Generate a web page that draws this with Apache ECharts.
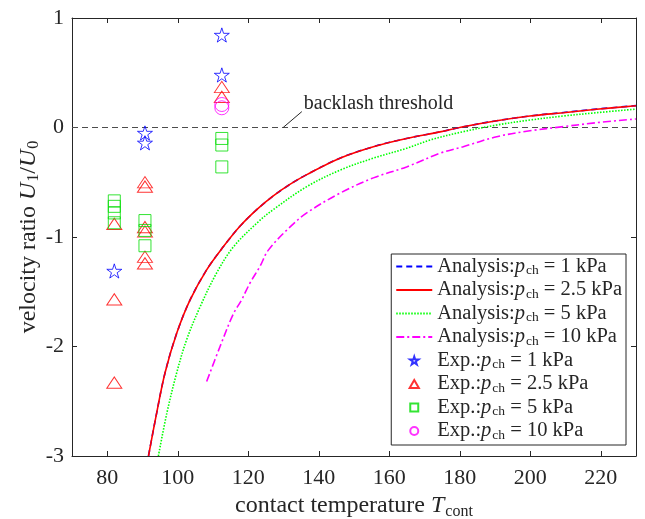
<!DOCTYPE html>
<html lang="en">
<head>
<meta charset="UTF-8">
<title>velocity ratio</title>
<style>
  html, body { margin: 0; padding: 0; background: #fff; }
  #main { width: 645px; height: 519px; }
</style>
<script src="https://cdn.jsdelivr.net/npm/echarts@6/dist/echarts.min.js"></script>
</head>
<body>
<div id="main"></div>
<script type="text/javascript">
// tick labels
var xTicks = [80, 100, 120, 140, 160, 180, 200, 220];

// analysis curves [T, U1/U0]
var ana1 = [[91.7,-3.0],[94.0,-2.61],[96.4,-2.24],[99.7,-1.88],[103.5,-1.575],[108.2,-1.30],[112.9,-1.09],[117.7,-0.90],[122.4,-0.75],[127.1,-0.625],[131.8,-0.52],[136.6,-0.43],[146.0,-0.28],[155.5,-0.175],[164.9,-0.10],[174.4,-0.04],[181.0,0.007],[190.5,0.062],[199.9,0.105],[209.4,0.137],[218.8,0.168],[230,0.2]];
var ana2p5 = [[91.7,-3.0],[94.0,-2.61],[96.4,-2.24],[99.7,-1.88],[103.5,-1.575],[108.2,-1.30],[112.9,-1.09],[117.7,-0.90],[122.4,-0.75],[127.1,-0.625],[131.8,-0.52],[136.6,-0.43],[146.0,-0.28],[155.5,-0.175],[164.9,-0.10],[174.4,-0.04],[181.0,0.007],[190.5,0.062],[199.9,0.105],[209.4,0.135],[218.8,0.166],[230,0.198]];
var ana5 = [[94.5,-3.0],[96.9,-2.61],[99.7,-2.24],[102.5,-1.94],[106.3,-1.64],[111.0,-1.33],[115.8,-1.09],[122.9,-0.86],[127.1,-0.75],[136.6,-0.54],[146.0,-0.39],[155.5,-0.28],[164.9,-0.19],[171.6,-0.114],[181.0,-0.038],[190.5,0.023],[199.9,0.068],[209.4,0.105],[218.8,0.135],[230,0.168]];
var ana10 = [[108.2,-2.32],[112.0,-2.0],[115.8,-1.70],[118.1,-1.575],[120.5,-1.42],[123.3,-1.27],[125.7,-1.12],[131.8,-0.91],[136.6,-0.78],[146.0,-0.60],[155.5,-0.46],[164.9,-0.36],[174.4,-0.235],[181.0,-0.175],[190.5,-0.084],[199.9,-0.03],[209.4,0.008],[218.8,0.044],[230,0.078]];

// experiments [T, U1/U0]
var exp1 = [[112.5,0.845],[112.5,0.48],[90.7,-0.05],[90.7,-0.14],[82,-1.31]];
var exp2p5 = [[82,-0.88],[82,-1.57],[82,-2.33],[90.7,-0.5],[90.7,-0.54],[90.7,-0.91],[90.7,-0.95],[90.7,-1.18],[90.7,-1.24],[112.5,0.37],[112.5,0.28]];
var exp5 = [[82,-0.67],[82,-0.72],[82,-0.78],[82,-0.87],[90.7,-0.85],[90.7,-0.94],[90.7,-1.08],[112.5,-0.1],[112.5,-0.16],[112.5,-0.36]];
var exp10 = [[112.5,0.21],[112.5,0.18]];

// threshold line + pointer to its label
var threshold = [[70,0],[230,0]];
var pointer = [[129.9,0],[135.2,0.145]];

var FONT = 'Liberation Serif';
var INK = '#262626';
var STAR = 'path://M50,0 L61,35 L98,35 L68,57 L79,91 L50,70 L21,91 L32,57 L2,35 L39,35 Z';
var TRI = 'path://M0,13 L7.5,0 L15,13 Z';
var SQ = 'path://M0,0 L10,0 L10,10 L0,10 Z';

var names = {
    'a1': '{t|Analysis:}{i|p}{s|ch}{t| = 1 kPa}',
    'a2': '{t|Analysis:}{i|p}{s|ch}{t| = 2.5 kPa}',
    'a5': '{t|Analysis:}{i|p}{s|ch}{t| = 5 kPa}',
    'a10': '{t|Analysis:}{i|p}{s|ch}{t| = 10 kPa}',
    'e1': '{t|Exp.:}{i|p}{s|ch}{t| = 1 kPa}',
    'e2': '{t|Exp.:}{i|p}{s|ch}{t| = 2.5 kPa}',
    'e5': '{t|Exp.:}{i|p}{s|ch}{t| = 5 kPa}',
    'e10': '{t|Exp.:}{i|p}{s|ch}{t| = 10 kPa}'
};

function lineSeries(id, data, color, type) {
    return {
        name: id, type: 'line', data: data, symbol: 'none',
        smooth: 0.35,
        lineStyle: { color: color, width: 1.6, type: type },
        itemStyle: { color: color },
        z: 3, silent: true
    };
}
function expSeries(id, data, color, symbol, size) {
    return {
        name: id, type: 'scatter', data: data, symbol: symbol, symbolSize: size,
        symbolKeepAspect: true,
        itemStyle: { color: 'rgba(0,0,0,0)', borderColor: color, borderWidth: 1 },
        z: 4, silent: true
    };
}
function rich(size, sub, drop) {
    return {
        t: { fontFamily: FONT, fontSize: size, color: INK },
        i: { fontFamily: FONT, fontSize: size, fontStyle: 'italic', color: INK },
        s: { fontFamily: FONT, fontSize: sub, color: INK, verticalAlign: 'bottom', padding: [drop, 0, 0, 1] }
    };
}

var myChart = echarts.init(document.getElementById('main'));
var axisLine = { show: true, onZero: false, lineStyle: { color: INK, width: 1 } };

var option = {
    animation: false,
    backgroundColor: '#fff',
    grid: { left: 72, right: 9, top: 18, bottom: 63, outerBoundsMode: 'none' },
    xAxis: [{
        type: 'value', min: 70, max: 230,
        axisLine: axisLine,
        axisTick: { inside: true, length: 5, customValues: xTicks, lineStyle: { color: INK } },
        axisLabel: { customValues: xTicks, color: INK, fontFamily: FONT, fontSize: 22, margin: 11 },
        splitLine: { show: false },
        name: '{t|contact temperature }{i|T}{s|cont}',
        nameLocation: 'middle', nameGap: 24,
        nameTextStyle: { rich: rich(24, 16, 11) }
    }, {
        type: 'value', min: 70, max: 230, position: 'top',
        axisLine: axisLine,
        axisTick: { inside: true, length: 5, customValues: xTicks, lineStyle: { color: INK } },
        axisLabel: { show: false },
        splitLine: { show: false }
    }],
    yAxis: [{
        type: 'value', min: -3, max: 1, interval: 1,
        axisLine: axisLine,
        axisTick: { inside: true, length: 5, lineStyle: { color: INK } },
        axisLabel: { color: INK, fontFamily: FONT, fontSize: 22, margin: 8 },
        splitLine: { show: false },
        name: '{t|velocity ratio }{i|U}{s|1}{t|/}{i|U}{s|0}',
        nameLocation: 'middle', nameGap: 30, nameRotate: 90, nameMoveOverlap: false,
        nameTextStyle: { rich: rich(24, 16, 11) }
    }, {
        type: 'value', min: -3, max: 1, interval: 1, position: 'right',
        axisLine: axisLine,
        axisTick: { inside: true, length: 5, lineStyle: { color: INK } },
        axisLabel: { show: false },
        splitLine: { show: false }
    }],
    legend: {
        orient: 'vertical', right: 19, top: 254,
        backgroundColor: '#fff', borderColor: INK, borderWidth: 1,
        padding: [2, 4, 3, 4],
        itemWidth: 36, itemHeight: 8, itemGap: 2, itemTextGap: 4,
        data: [
            { name: 'a1', itemStyle: { opacity: 0 } },
            { name: 'a2', itemStyle: { opacity: 0 } },
            { name: 'a5', itemStyle: { opacity: 0 } },
            { name: 'a10', itemStyle: { opacity: 0 } },
            'e1', 'e2', 'e5', 'e10'
        ],
        formatter: function (n) { return names[n]; },
        textStyle: { rich: rich(20.5, 13.5, 8) }
    },
    series: [
        {
            name: 'threshold', type: 'line', data: threshold, symbol: 'none', silent: true,
            lineStyle: { color: '#4d4d4d', width: 1.2, type: [6, 4] }, z: 2
        },
        {
            name: 'pointer', type: 'line', silent: true, symbol: 'circle', symbolSize: 0, showSymbol: true,
            lineStyle: { color: INK, width: 1 }, z: 2,
            data: [pointer[0], {
                value: pointer[1],
                label: { show: true, position: 'right', distance: 2, offset: [0, -8],
                    formatter: 'backlash threshold', fontFamily: FONT, fontSize: 20, color: INK }
            }]
        },
        lineSeries('a1', ana1, '#0000ff', [6, 4]),
        lineSeries('a2', ana2p5, '#ff0000', 'solid'),
        lineSeries('a5', ana5, '#00ff00', [1.5, 1.5]),
        lineSeries('a10', ana10, '#ff00ff', [8, 3, 2, 3]),
        expSeries('e1', exp1, '#0000ff', STAR, 15),
        expSeries('e2', exp2p5, '#ff0000', TRI, [15, 13]),
        expSeries('e5', exp5, '#00dd00', SQ, 12),
        expSeries('e10', exp10, '#ff00ff', 'circle', 14)
    ]
};
myChart.setOption(option);
</script>
</body>
</html>
